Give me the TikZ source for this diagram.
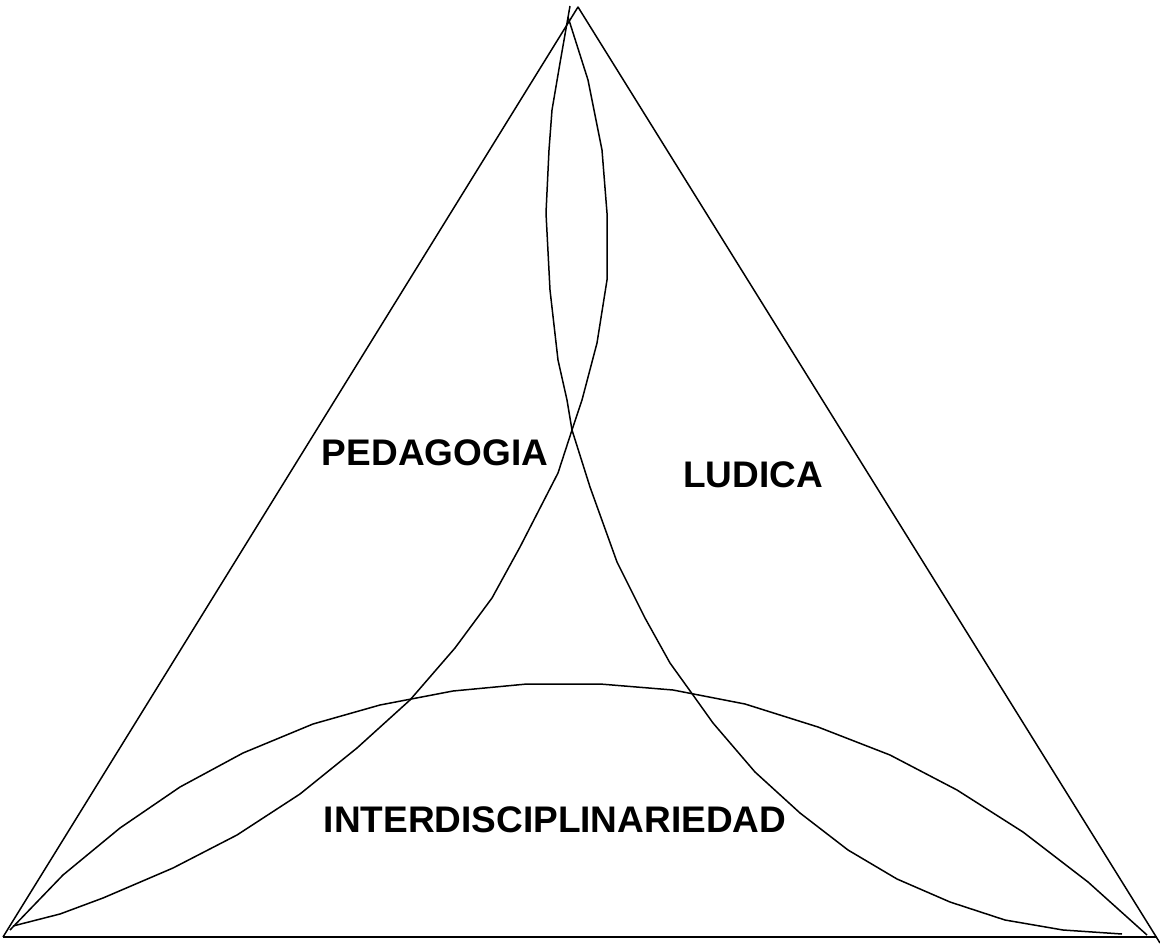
\documentclass[tikz,border=0pt]{standalone}
\usepackage{fontspec}
\setmainfont{Liberation Sans}
\begin{document}
\begin{tikzpicture}[x=1pt,y=-1pt,
  edge/.style={line width=1.5pt,line join=round},
  lbl/.style={font=\bfseries\fontsize{37}{40}\selectfont,inner sep=0pt}]
\useasboundingbox (0,0) rectangle (1160,945);
\coordinate (apex) at (578,7);
\coordinate (bl) at (3,937);
\coordinate (br) at (1157,937);
\coordinate (brx) at (1160,943);
% triangle
\draw[edge] (bl) -- (apex) -- (brx);
\draw[edge] (bl) -- (br);
% ludica boundary
\draw[edge] (570,6) -- (560,63) -- (552,110) -- (549,150) -- (546,213) -- (550,290) -- (558,360) -- (567,400) -- (572,430) -- (590,487) -- (617,562) -- (645,618) -- (670,663) -- (693,695) -- (713,723) -- (755,772) -- (800,813) -- (848,850) -- (897,879) -- (950,902) -- (1005,920) -- (1063,930) -- (1122,934);
% pedagogia boundary
\draw[edge] (568,17) -- (588,80) -- (602,150) -- (607,213) -- (607,280) -- (597,343) -- (582,400) -- (572,430) -- (558,473) -- (520,547) -- (492,598) -- (455,648) -- (410,700) -- (357,748) -- (300,794) -- (237,835) -- (173,868) -- (103,898) -- (60,914) -- (13,926);
% interdisciplinariedad boundary
\draw[edge] (10,930) -- (63,875) -- (120,828) -- (180,787) -- (243,753) -- (313,724) -- (380,705) -- (453,691) -- (527,684) -- (600,684) -- (673,690) -- (745,704) -- (818,727) -- (890,755) -- (957,790) -- (1023,832) -- (1088,882) -- (1147,935);
\node[lbl] (ped) at (435,453) {PEDAGOGIA};
\node[lbl] (lud) at (753,475) {LUDICA};
\node[lbl] (int) at (555,820) {INTERDISCIPLINARIEDAD};
\end{tikzpicture}
\end{document}
